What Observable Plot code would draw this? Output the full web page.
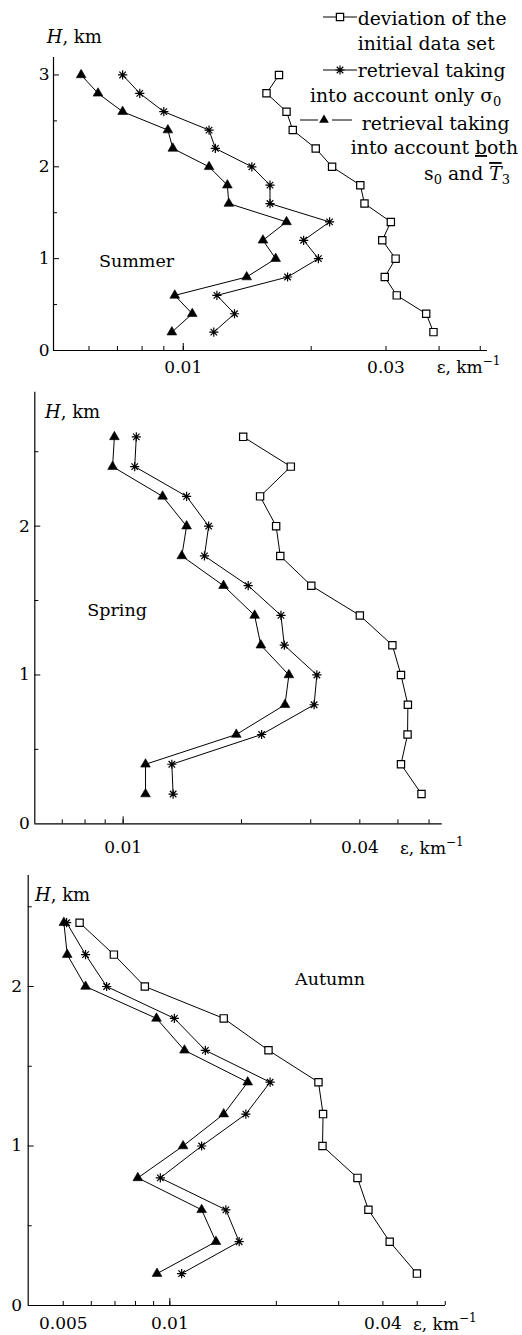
<!DOCTYPE html>
<html><head><meta charset="utf-8">
<script src="https://cdn.jsdelivr.net/npm/d3@7"></script>
<script src="https://cdn.jsdelivr.net/npm/@observablehq/plot@0.6"></script>
<style>
html,body{margin:0;padding:0;background:#fff;overflow:hidden}
#root{position:relative;width:522px;height:1335px;font-family:"DejaVu Serif",serif}
#root > svg{position:absolute;left:0}
</style></head><body><div id="root"></div>
<script>
// ---------- data (ε, km^-1 vs H, km) ----------
const summerH = [3.0, 2.8, 2.6, 2.4, 2.2, 2.0, 1.8, 1.6, 1.4, 1.2, 1.0, 0.8, 0.6, 0.4, 0.2];
const summerDeviation = [0.0168, 0.0157, 0.0175, 0.0181, 0.0205, 0.0224, 0.0261, 0.0267, 0.0308, 0.0294, 0.0316, 0.0298, 0.0318, 0.0373, 0.0388];
const summerSigma = [0.0072, 0.0079, 0.0090, 0.0115, 0.0119, 0.0145, 0.0160, 0.0160, 0.0221, 0.0192, 0.0208, 0.0176, 0.0120, 0.0132, 0.0118];
const summerBoth = [0.00575, 0.0063, 0.0072, 0.0092, 0.00945, 0.0115, 0.0127, 0.0128, 0.0175, 0.0154, 0.0165, 0.0141, 0.00955, 0.0105, 0.0094];

const springH = [2.6, 2.4, 2.2, 2.0, 1.8, 1.6, 1.4, 1.2, 1.0, 0.8, 0.6, 0.4, 0.2];
const springDeviation = [0.0202, 0.0267, 0.0223, 0.0245, 0.0251, 0.0301, 0.0400, 0.0484, 0.0509, 0.0530, 0.0529, 0.0509, 0.0574];
const springSigma = [0.0108, 0.0107, 0.0145, 0.0165, 0.0161, 0.0208, 0.0252, 0.0257, 0.0311, 0.0306, 0.0225, 0.0133, 0.0134];
const springBoth = [0.0095, 0.0094, 0.0126, 0.0145, 0.0141, 0.0180, 0.0216, 0.0224, 0.0264, 0.0258, 0.0194, 0.0114, 0.0114];

const autumnH = [2.4, 2.2, 2.0, 1.8, 1.6, 1.4, 1.2, 1.0, 0.8, 0.6, 0.4, 0.2];
const autumnDeviation = [0.00556, 0.00695, 0.0085, 0.0142, 0.0190, 0.0263, 0.0271, 0.0270, 0.0339, 0.0364, 0.0418, 0.0499];
const autumnSigma = [0.00511, 0.00578, 0.00663, 0.0103, 0.0126, 0.0192, 0.0164, 0.0123, 0.0094, 0.0144, 0.0157, 0.0108];
const autumnBoth = [0.00502, 0.00513, 0.00578, 0.00917, 0.0110, 0.0166, 0.0142, 0.0109, 0.00812, 0.0123, 0.0135, 0.0092];

// tick values
const summerXTicks = [0.006, 0.007, 0.008, 0.009, 0.01, 0.02, 0.03, 0.04, 0.05];
const summerXLabels = [0.01, 0.03];
const springXTicks = [0.007, 0.008, 0.009, 0.01, 0.02, 0.03, 0.04, 0.05, 0.06];
const springXLabels = [0.01, 0.04];
const autumnXTicks = [0.005, 0.006, 0.007, 0.008, 0.009, 0.01, 0.02, 0.03, 0.04, 0.05, 0.06];
const autumnXLabels = [0.005, 0.01, 0.04];
const xMajorTicks = [0.01];
const summerYLabels = [0, 1, 2, 3];
const springYLabels = [0, 1, 2];
const autumnYLabels = [0, 1, 2];
const yMinorTicks = [0.5, 1.5, 2.5];

const seriesNames = ["deviation", "sigma", "both"];
const seasonLabels = ["Summer", "Spring", "Autumn"];

// ---------- drawing ----------
const FONT = "DejaVu Serif";
const asterisk8 = {
  draw(ctx, size) {
    const r = Math.sqrt(size / Math.PI), d = r * Math.SQRT1_2;
    ctx.moveTo(0, -r); ctx.lineTo(0, r);
    ctx.moveTo(-r, 0); ctx.lineTo(r, 0);
    ctx.moveTo(-d, -d); ctx.lineTo(d, d);
    ctx.moveTo(-d, d); ctx.lineTo(d, -d);
  }
};

function panel(cfg) {
  const rows = [];
  [cfg.dev, cfg.sig, cfg.both].forEach((vals, k) =>
    vals.forEach((v, i) => rows.push({series: seriesNames[k], eps: v, H: cfg.H[i]})));
  const innerW = cfg.width - cfg.ml - cfg.mr;
  const innerH = cfg.height - cfg.mt - cfg.mb;
  const yMajor = cfg.yLabels.filter(d => d > 0);
  const yMinor = yMinorTicks.filter(d => d < cfg.yDomain[1]);
  const svg = Plot.plot({
    width: cfg.width, height: cfg.height,
    marginLeft: cfg.ml, marginRight: cfg.mr, marginTop: cfg.mt, marginBottom: cfg.mb,
    style: {fontFamily: FONT, fontSize: "17px", color: "black", background: "transparent", overflow: "visible"},
    x: {type: "log", domain: cfg.xDomain, ticks: cfg.xLabels, tickFormat: d => String(d), tickSize: 0, tickPadding: cfg.xPad, label: null},
    y: {domain: cfg.yDomain, ticks: cfg.yLabels, tickFormat: d => String(d), tickSize: 0, tickPadding: cfg.yPad, label: null},
    marks: [
      Plot.ruleY([0], {stroke: "black", strokeWidth: 1.2}),
      Plot.ruleX([cfg.xDomain[0]], {stroke: "black", strokeWidth: 1.2}),
      Plot.tickX(cfg.xTicks, {x: d => d, insetTop: innerH - 4, stroke: "black"}),
      Plot.tickX(xMajorTicks, {x: d => d, insetTop: innerH - 7, stroke: "black"}),
      Plot.tickY(yMinor, {y: d => d, insetRight: innerW - 4, stroke: "black"}),
      Plot.tickY(yMajor, {y: d => d, insetRight: innerW - 6, stroke: "black"}),
      Plot.line(rows, {x: "eps", y: "H", z: "series", stroke: "black", strokeWidth: 1}),
      Plot.dot(rows.filter(d => d.series === "deviation"), {x: "eps", y: "H", symbol: "square", r: 4.1, fill: "white", stroke: "black", strokeWidth: 1.2}),
      Plot.dot(rows.filter(d => d.series === "sigma"), {x: "eps", y: "H", symbol: asterisk8, r: 4.6, fill: "none", stroke: "black", strokeWidth: 1.2}),
      Plot.dot(rows.filter(d => d.series === "both"), {x: "eps", y: "H", symbol: "triangle", r: 3.6, fill: "black", stroke: "black", strokeWidth: 0.6})
    ]
  });
  svg.style.top = cfg.top + "px";
  return svg;
}

const root = document.getElementById("root");
root.appendChild(panel({
  top: 0, width: 522, height: 380, ml: 53, mr: 35, mt: 57, mb: 30, xPad: 10, yPad: 4,
  xDomain: [0.00495, 0.052], yDomain: [0, 3.19],
  H: summerH, dev: summerDeviation, sig: summerSigma, both: summerBoth,
  xTicks: summerXTicks, xLabels: summerXLabels, yLabels: summerYLabels
}));
root.appendChild(panel({
  top: 380, width: 522, height: 480, ml: 34.3, mr: 80.3, mt: 11.7, mb: 36.7, xPad: 17, yPad: 5,
  xDomain: [0.00596, 0.0648], yDomain: [0, 2.9],
  H: springH, dev: springDeviation, sig: springSigma, both: springBoth,
  xTicks: springXTicks, xLabels: springXLabels, yLabels: springYLabels
}));
root.appendChild(panel({
  top: 860, width: 522, height: 475, ml: 27.7, mr: 77, mt: 15, mb: 30, xPad: 11.5, yPad: 6,
  xDomain: [0.00398, 0.0601], yDomain: [0, 2.696],
  H: autumnH, dev: autumnDeviation, sig: autumnSigma, both: autumnBoth,
  xTicks: autumnXTicks, xLabels: autumnXLabels, yLabels: autumnYLabels
}));

// ---------- overlay: axis titles, season labels, legend ----------
const ov = d3.create("svg").attr("width", 522).attr("height", 1335)
  .style("top", "0px").style("font-family", FONT).style("pointer-events", "none");

function hLabel(x, y) {
  const t = ov.append("text").attr("x", x).attr("y", y).attr("font-size", 18);
  t.append("tspan").attr("font-style", "italic").text("H");
  t.append("tspan").text(", km");
}
function epsLabel(x, y) {
  const t = ov.append("text").attr("x", x).attr("y", y).attr("font-size", 17);
  t.append("tspan").text("ε, km");
  t.append("tspan").attr("dy", -8).attr("font-size", 12).text("−1");
}
hLabel(46.7, 42.7); hLabel(45, 418.3); hLabel(35, 900.7);
epsLabel(436.7, 372.5); epsLabel(400, 854); epsLabel(413, 1330);

[[seasonLabels[0], 99, 267], [seasonLabels[1], 87.3, 616], [seasonLabels[2], 295, 985]].forEach(([s, x, y]) =>
  ov.append("text").attr("x", x).attr("y", y).attr("font-size", 17.5).text(s));

// legend
const LF = 18.8;
function ltext(x, y, parts, anchor) {
  const t = ov.append("text").attr("x", x).attr("y", y).attr("font-size", LF).attr("text-anchor", anchor || "start");
  parts.forEach(p => {
    const s = t.append("tspan").text(p.t);
    if (p.sub) s.attr("font-size", 13).attr("dy", 4);
    if (p.back) s.attr("dy", -4);
    if (p.it) s.attr("font-style", "italic");
    if (p.deco) s.style("text-decoration", p.deco);
  });
}
// symbols
ov.append("line").attr("x1", 323).attr("x2", 357).attr("y1", 17).attr("y2", 17).attr("stroke", "black");
ov.append("path").attr("d", d3.symbol(d3.symbolSquare, Math.PI * 4.1 * 4.1)()).attr("transform", "translate(340,17)")
  .attr("fill", "white").attr("stroke", "black").attr("stroke-width", 1.2);
ov.append("line").attr("x1", 323).attr("x2", 357).attr("y1", 70).attr("y2", 70).attr("stroke", "black");
ov.append("path").attr("d", d3.symbol(asterisk8, Math.PI * 4.6 * 4.6)()).attr("transform", "translate(340,70)")
  .attr("fill", "none").attr("stroke", "black").attr("stroke-width", 1.2);
ov.append("line").attr("x1", 300).attr("x2", 318).attr("y1", 120).attr("y2", 120).attr("stroke", "black");
ov.append("line").attr("x1", 332).attr("x2", 352).attr("y1", 120).attr("y2", 120).attr("stroke", "black");
ov.append("path").attr("d", d3.symbol(d3.symbolTriangle, Math.PI * 3.6 * 3.6)()).attr("transform", "translate(324,120)")
  .attr("fill", "black");

ltext(357.7, 25, [{t: "deviation of the"}]);
ltext(357.7, 50, [{t: "initial data set"}]);
ltext(357.7, 77, [{t: "retrieval taking"}]);
ltext(310, 102, [{t: "into account only σ"}, {t: "0", sub: true}]);
ltext(361.7, 130, [{t: "retrieval taking"}]);
ltext(518, 154, [{t: "into account "}, {t: "b", deco: "underline"}, {t: "oth"}], "end");
ltext(510, 180, [{t: "s"}, {t: "0", sub: true}, {t: " and ", back: true}, {t: "T", it: true, deco: "overline"}, {t: "3", sub: true}], "end");

root.appendChild(ov.node());
</script>
</body></html>
